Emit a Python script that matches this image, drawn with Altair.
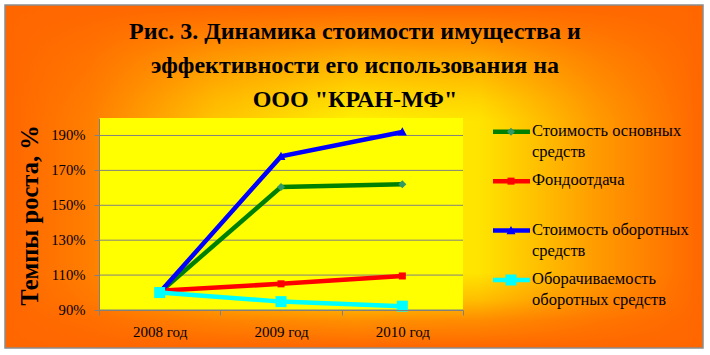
import altair as alt
import pandas as pd

# ---- data ----
years = ["2008 год", "2009 год", "2010 год"]
series = [
    "Стоимость основных средств",
    "Фондоотдача",
    "Стоимость оборотных средств",
    "Оборачиваемость оборотных средств",
]
legend_labels = [
    "Стоимость основных|средств",
    "Фондоотдача",
    "Стоимость оборотных|средств",
    "Оборачиваемость|оборотных средств",
]
fixed_assets = [100.0, 160.5, 162.0]
asset_return = [101.0, 105.0, 109.5]
current_assets = [100.0, 178.0, 192.0]
turnover = [100.0, 94.8, 92.2]
y_ticks = [90, 110, 130, 150, 170, 190]

# ---- styles ----
line_colors = ["#008000", "#FF0000", "#0000FF", "#00FFFF"]
marker_fills = ["#339966", "#FF0000", "#0000FF", "#00FFFF"]
marker_paths = [
    "M0,-0.73L0.73,0L0,0.73L-0.73,0Z",
    "M-0.64,-0.64L0.64,-0.64L0.64,0.64L-0.64,0.64Z",
    "M0,-0.85L0.82,0.65L-0.82,0.65Z",
    "M-1,-1L1,-1L1,1L-1,1Z",
]
FONT = "Liberation Serif"
W, H = 364, 192

rows = []
for s, vals in zip(series, [fixed_assets, asset_return, current_assets, turnover]):
    for yr, v in zip(years, vals):
        rows.append({"series": s, "year": yr, "value": v})
df = pd.DataFrame(rows)
leg_df = pd.DataFrame({"series": series, "label": legend_labels})
tick_df = pd.DataFrame({"tick": y_ticks})
one = alt.Data(values=[{"a": 1}])

color_scale = alt.Scale(domain=series, range=line_colors)
shape_scale = alt.Scale(domain=series, range=marker_paths)
fill_scale = alt.Scale(domain=series, range=marker_fills)


def yscale():
    return alt.Scale(domain=[90, 200], nice=False, zero=False)


# ---- background (chart area gradient) ----
bg_h = alt.Chart(one).mark_rect(
    fill=alt.LinearGradient(
        gradient="linear", x1=0, y1=0, x2=1, y2=0,
        stops=[
            alt.GradientStop(offset=0.0, color="#FF6600"),
            alt.GradientStop(offset=0.12, color="#FF7E00"),
            alt.GradientStop(offset=0.3, color="#FFC400"),
            alt.GradientStop(offset=0.5, color="#FFF000"),
            alt.GradientStop(offset=0.68, color="#FFE400"),
            alt.GradientStop(offset=0.85, color="#FF9A00"),
            alt.GradientStop(offset=1.0, color="#FF6600"),
        ],
    )
).encode(x=alt.value(-94), x2=alt.value(604), y=alt.value(-113), y2=alt.value(230))

bg_v = alt.Chart(one).mark_rect(
    fill=alt.LinearGradient(
        gradient="linear", x1=0, y1=0, x2=0, y2=1,
        stops=[
            alt.GradientStop(offset=0.0, color="rgba(255,102,0,1)"),
            alt.GradientStop(offset=0.045, color="rgba(255,102,0,0.85)"),
            alt.GradientStop(offset=0.16, color="rgba(255,102,0,0.45)"),
            alt.GradientStop(offset=0.28, color="rgba(255,102,0,0.12)"),
            alt.GradientStop(offset=0.34, color="rgba(255,102,0,0)"),
            alt.GradientStop(offset=0.78, color="rgba(255,102,0,0)"),
            alt.GradientStop(offset=0.86, color="rgba(255,102,0,0.3)"),
            alt.GradientStop(offset=0.92, color="rgba(255,102,0,0.7)"),
            alt.GradientStop(offset=1.0, color="rgba(255,102,0,1)"),
        ],
    ),
    stroke="#8C8C8C",
    strokeWidth=1.5,
).encode(x=alt.value(-94), x2=alt.value(604), y=alt.value(-113), y2=alt.value(230))

plot_bg = alt.Chart(one).mark_rect(fill="#FFFF00").encode(
    x=alt.value(0), x2=alt.value(W), y=alt.value(0), y2=alt.value(H)
)

grid = alt.Chart(tick_df).mark_rule(color="#808080", strokeWidth=1).encode(
    y=alt.Y("tick:Q", scale=yscale(), axis=None)
)

x_enc = alt.X(
    "year:N",
    sort=years,
    scale=alt.Scale(type="band", domain=years, paddingInner=0, paddingOuter=0),
    axis=alt.Axis(
        title=None, tickBand="extent", grid=False, labelAngle=0,
        domainColor="#808080", tickColor="#808080", tickSize=5,
        labelFont=FONT, labelFontSize=15, labelColor="black", labelPadding=9,
        zindex=1,
    ),
)

lines = alt.Chart(df).mark_line(strokeWidth=4.5).encode(
    x=x_enc,
    y=alt.Y(
        "value:Q",
        scale=yscale(),
        axis=alt.Axis(
            orient="left",
            values=y_ticks, grid=False, labelExpr="datum.value + '%'",
            domainColor="#808080", tickColor="#808080", tickSize=5,
            labelFont=FONT, labelFontSize=14.7, labelColor="black", labelPadding=9,
            title="Темпы роста, %", titleFont=FONT, titleFontSize=24.5,
            titleFontWeight="bold", titleColor="black", titleX=-69, titleY=97,
            titleAngle=270, titleAlign="center", titleBaseline="middle",
            zindex=1,
        ),
    ),
    color=alt.Color("series:N", scale=color_scale, legend=None),
)

points = alt.Chart(df).mark_point(filled=True, size=121, opacity=1).encode(
    x=x_enc,
    y=alt.Y("value:Q", scale=yscale(), axis=None),
    shape=alt.Shape("series:N", scale=shape_scale, legend=None),
    fill=alt.Fill("series:N", scale=fill_scale, legend=None),
)

# ---- legend ----
leg_y = alt.Y(
    "series:N", sort=series,
    scale=alt.Scale(type="point", domain=series, range=[13.7, 162], padding=0),
    axis=None,
)
leg_rule = alt.Chart(leg_df).mark_rule(strokeWidth=4.5).encode(
    x=alt.value(394), x2=alt.value(431), y=leg_y,
    color=alt.Color("series:N", scale=color_scale, legend=None),
)
leg_pts = alt.Chart(leg_df).mark_point(filled=True, size=121, opacity=1).encode(
    x=alt.value(412), y=leg_y,
    shape=alt.Shape("series:N", scale=shape_scale, legend=None),
    fill=alt.Fill("series:N", scale=fill_scale, legend=None),
)
leg_text = alt.Chart(leg_df).mark_text(
    align="left", baseline="top", lineBreak="|", lineHeight=21,
    font=FONT, fontSize=16.5, color="black", dy=-9,
).encode(x=alt.value(433), y=leg_y, text="label:N")

chart = (
    alt.layer(bg_h, bg_v, plot_bg, grid, lines, points, leg_rule, leg_pts, leg_text)
    .resolve_scale(y="independent")
    .properties(
        width=W,
        height=H,
        padding={"left": 99, "top": 118, "right": 247, "bottom": 45},
        autosize=alt.AutoSizeParams(type="none"),
        background="white",
        title=alt.TitleParams(
            text=[
                "Рис. 3. Динамика стоимости имущества и",
                "эффективности его использования на",
                "ООО \"КРАН-МФ\"",
            ],
            font=FONT, fontSize=24, fontWeight="bold", color="black",
            anchor="middle", frame="group", dx=74, dy=112, offset=4,
            lineHeight=34, baseline="top",
        ),
    )
    .configure_view(strokeWidth=0)
)

chart.save("out.html", embed_options={"renderer": "svg", "actions": False})
